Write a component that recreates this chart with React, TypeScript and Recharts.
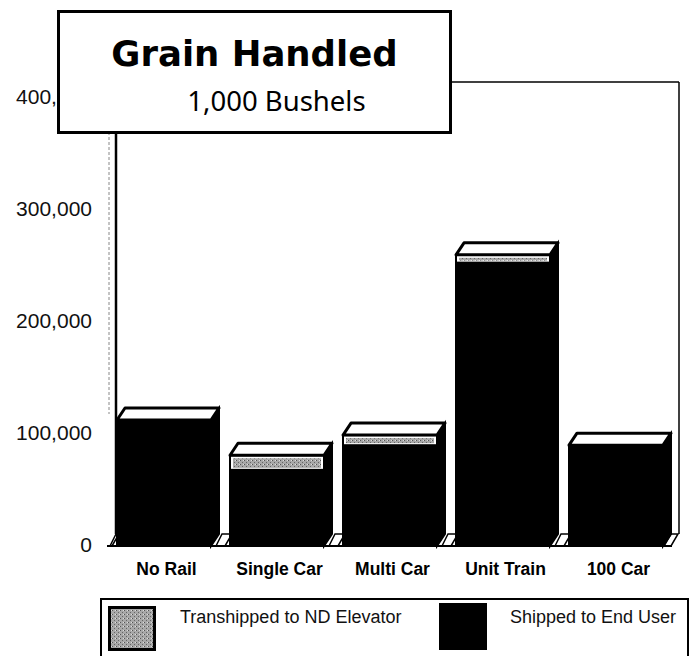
import { Bar, BarChart, Legend, XAxis, YAxis, usePlotArea } from "recharts";

const categories = ["No Rail", "Single Car", "Multi Car", "Unit Train", "100 Car"];
const shippedToEndUser = [112500, 68000, 90000, 253000, 90000];
const transhipped = [0, 13000, 9000, 7000, 0];
const yTicks = [0, 100000, 200000, 300000, 400000];

const chartData = categories.map((name, i) => ({
  name,
  shipped: shippedToEndUser[i],
  transhipped: transhipped[i],
}));

const DEPTH_X = 8;
const DEPTH_Y = 12;

function WallFrame() {
  const plot = usePlotArea();
  if (!plot) return null;
  const left = plot.x + DEPTH_X + 1;
  const right = plot.x + plot.width + DEPTH_X - 1;
  const top = plot.y - DEPTH_Y - 4;
  const back = plot.y + plot.height - DEPTH_Y;
  return (
    <g>
      <line x1={plot.x + 2} x2={plot.x + 2} y1={top + 40} y2={back - 120} stroke="#888" strokeDasharray="3 2" />
      <line x1={left} x2={left} y1={top} y2={back} stroke="#000" strokeWidth={2.5} />
      <line x1={left} x2={right} y1={top} y2={top} stroke="#000" strokeWidth={1.5} />
      <line x1={right} x2={right} y1={top} y2={back} stroke="#000" strokeWidth={1.5} />
    </g>
  );
}

function ShippedBox(props: any) {
  const { x, y, width, height, index } = props;
  const bottom = y + height;
  const right = x + width;
  return (
    <g>
      <polygon
        points={`${x - (index === 0 ? 7 : 14)},${bottom} ${x - (index === 0 ? 1 : 8)},${bottom - DEPTH_Y} ${x + 2},${bottom - DEPTH_Y} ${x - 5},${bottom}`}
        fill="#fff"
        stroke="#000"
        strokeWidth={1.5}
      />
      {index === categories.length - 1 && (
        <polygon
          points={`${right + 1},${bottom} ${right + 8},${bottom - DEPTH_Y} ${right + 15},${bottom - DEPTH_Y} ${right + 8},${bottom}`}
          fill="#fff"
          stroke="#000"
          strokeWidth={1.5}
        />
      )}
      <polygon
        points={`${right},${y} ${right + DEPTH_X},${y - DEPTH_Y} ${right + DEPTH_X},${bottom - DEPTH_Y} ${right},${bottom}`}
        fill="#000"
        stroke="#000"
        strokeWidth={2}
      />
      <rect x={x} y={y} width={width} height={height} fill="#000" stroke="#000" strokeWidth={2} />
    </g>
  );
}

function TranshippedBox(props: any) {
  const { x, y, width, height } = props;
  const right = x + width;
  return (
    <g>
      {height > 0 && (
        <g>
          <polygon
            points={`${right},${y} ${right + DEPTH_X},${y - DEPTH_Y} ${right + DEPTH_X},${y + height - DEPTH_Y} ${right},${y + height}`}
            fill="#000"
            stroke="#000"
            strokeWidth={2}
          />
          <rect x={x} y={y} width={width} height={height} fill="#fff" stroke="#000" strokeWidth={2} />
          <rect x={x + 3} y={y + 3} width={width - 6} height={Math.max(height - 5, 1)} fill="url(#stipple)" />
        </g>
      )}
      <polygon
        points={`${x},${y} ${x + DEPTH_X},${y - DEPTH_Y} ${right + DEPTH_X},${y - DEPTH_Y} ${right},${y}`}
        fill="#fff"
        stroke="#000"
        strokeWidth={3}
        strokeLinejoin="round"
      />
    </g>
  );
}

function LegendBox() {
  return (
    <div
      style={{
        position: "absolute",
        left: 100,
        top: 598,
        width: 585,
        height: 58,
        borderTop: "2px solid #000",
        borderLeft: "2px solid #000",
        borderRight: "2px solid #000",
        fontFamily: "'Liberation Sans', Arial, sans-serif",
        fontSize: 18,
        color: "#111",
      }}
    >
      <svg style={{ position: "absolute", left: 6, top: 6 }} width={48} height={45}>
        <rect x={1.5} y={1.5} width={45} height={42} fill="url(#stipple)" stroke="#000" strokeWidth={3} />
      </svg>
      <div style={{ position: "absolute", left: 78, top: 7 }}>Transhipped to ND Elevator</div>
      <div style={{ position: "absolute", left: 337, top: 3, width: 48, height: 47, background: "#000" }} />
      <div style={{ position: "absolute", left: 408, top: 7 }}>Shipped to End User</div>
    </div>
  );
}

export default function App() {
  return (
    <div style={{ position: "absolute", left: 0, top: 0, width: 689, height: 656, overflow: "hidden", background: "#fff" }}>
      <BarChart
        width={689}
        height={656}
        data={chartData}
        margin={{ top: 98, right: 17, left: 0, bottom: 0 }}
        barSize={94}
      >
        <defs>
          <pattern id="stipple" width="4" height="4" patternUnits="userSpaceOnUse">
            <rect width="4" height="4" fill="#a8a8a8" />
            <rect x="0" y="0" width="1" height="1" fill="#555" />
            <rect x="2" y="2" width="1" height="1" fill="#666" />
            <rect x="3" y="0" width="1" height="1" fill="#ddd" />
          </pattern>
        </defs>
        <WallFrame />
        <XAxis
          dataKey="name"
          height={50}
          axisLine={{ stroke: "#000", strokeWidth: 2 }}
          tickLine={false}
          tickMargin={11}
          interval={0}
          dx={3}
          tick={{ fill: "#000", fontSize: 17.5, fontWeight: 700, fontFamily: "'Liberation Sans', Arial, sans-serif" }}
        />
        <YAxis
          width={107}
          domain={[0, 400000]}
          ticks={yTicks}
          axisLine={false}
          tickLine={false}
          tickSize={0}
          tickMargin={15}
          dy={-1}
          tickFormatter={(v: number) => v.toLocaleString("en-US")}
          tick={{ fill: "#111", fontSize: 21, fontFamily: "'Liberation Sans', Arial, sans-serif" }}
        />
        <Legend
          verticalAlign="bottom"
          content={() => <LegendBox />}
          wrapperStyle={{ position: "absolute", left: 0, top: 0, width: 689, height: 60, bottom: "auto" }}
        />
        <Bar dataKey="shipped" name="Shipped to End User" stackId="grain" isAnimationActive={false} shape={ShippedBox} />
        <Bar dataKey="transhipped" name="Transhipped to ND Elevator" stackId="grain" isAnimationActive={false} shape={TranshippedBox} />
      </BarChart>
      <div
        style={{
          position: "absolute",
          left: 57,
          top: 10,
          width: 389,
          height: 118,
          border: "3.5px solid #000",
          background: "#fff",
          color: "#000",
          textAlign: "center",
        }}
      >
        <div style={{ position: "absolute", left: 0, top: 16, width: 389, fontFamily: "'DejaVu Sans', sans-serif", fontWeight: 700, fontSize: 35.5, lineHeight: "50px" }}>
          Grain Handled
        </div>
        <div style={{ position: "absolute", left: 22, top: 68, width: 389, fontFamily: "'Noto Sans', sans-serif", fontSize: 27.5, lineHeight: "40px" }}>
          1,000 Bushels
        </div>
      </div>
    </div>
  );
}
